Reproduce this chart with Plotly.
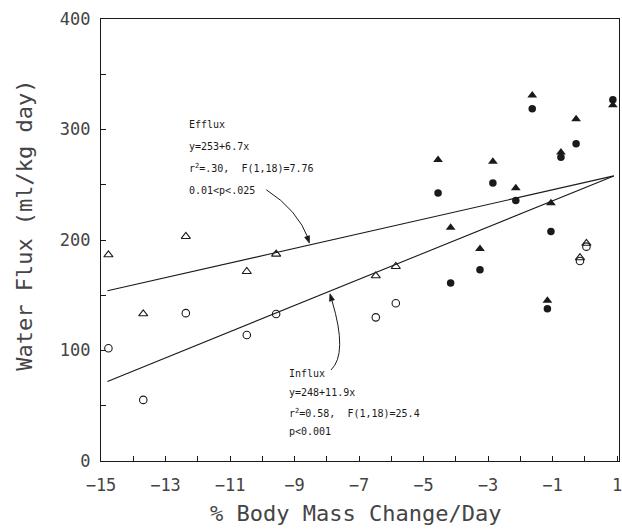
import plotly.graph_objects as go

# ---- data ----
open_x = [-14.77, -13.69, -12.37, -10.48, -9.57, -6.48, -5.86, -0.15, 0.05]
open_efflux = [186.6, 133.2, 203.2, 171.5, 187.2, 167.6, 176.0, 184.0, 197.0]
open_influx = [102.0, 55.3, 133.8, 114.0, 133.0, 130.0, 142.8, 181.0, 194.0]

filled_x = [-4.55, -4.16, -3.25, -2.85, -2.14, -1.63, -1.05, -1.16, -0.74, -0.27, 0.87]
filled_efflux = [272.6, 211.3, 192.0, 271.0, 247.0, 331.0, 233.4, 145.2, 279.3, 309.5, 322.0]
filled_influx = [242.5, 161.0, 173.0, 251.5, 235.8, 318.8, 207.7, 137.7, 275.0, 287.0, 327.0]

fit_x = [-14.8, 0.9]
efflux_fit = [154.0, 258.0]
influx_fit = [72.0, 258.0]

x_ticks = [-15, -13, -11, -9, -7, -5, -3, -1, 1]
y_ticks = [0, 100, 200, 300, 400]

efflux_text = ["Efflux", "y=253+6.7x", "r<sup>2</sup>=.30,  F(1,18)=7.76", "0.01<p<.025"]
influx_text = ["Influx", "y=248+11.9x", "r<sup>2</sup>=0.58,  F(1,18)=25.4", "p<0.001"]

MONO = "DejaVu Sans Mono"
INK = "#1a1a1a"
TXT = "#444444"

fig = go.Figure()

fig.add_trace(go.Scatter(x=fit_x, y=efflux_fit, mode="lines",
                         line=dict(color=INK, width=1.1), showlegend=False))
fig.add_trace(go.Scatter(x=fit_x, y=influx_fit, mode="lines",
                         line=dict(color=INK, width=1.1), showlegend=False))

fig.add_trace(go.Scatter(x=open_x, y=open_efflux, mode="markers",
                         marker=dict(symbol="triangle-up-open", size=8, color=INK,
                                     line=dict(width=1.1, color=INK)),
                         cliponaxis=False, showlegend=False))
fig.add_trace(go.Scatter(x=open_x, y=open_influx, mode="markers",
                         marker=dict(symbol="circle-open", size=7.5, color=INK,
                                     line=dict(width=1.1, color=INK)),
                         cliponaxis=False, showlegend=False))
fig.add_trace(go.Scatter(x=filled_x, y=filled_efflux, mode="markers",
                         marker=dict(symbol="triangle-up", size=8.5, color=INK),
                         cliponaxis=False, showlegend=False))
fig.add_trace(go.Scatter(x=filled_x, y=filled_influx, mode="markers",
                         marker=dict(symbol="circle", size=7.5, color=INK),
                         cliponaxis=False, showlegend=False))

# curved leader arrows (quadratic paths in data coordinates) with filled heads
fig.add_shape(type="path", xref="x", yref="y",
              path="M -9.877,245.5 Q -8.903,227.4 -8.560,200.5",
              line=dict(color=INK, width=1))
fig.add_shape(type="path", xref="x", yref="y",
              path="M -8.540,197.2 L -8.685,202.4 L -8.539,203.9 Z",
              line=dict(color=INK, width=0.8), fillcolor=INK)
fig.add_shape(type="path", xref="x", yref="y",
              path="M -7.870,82.4 Q -7.343,96.9 -7.840,145.2",
              line=dict(color=INK, width=1))
fig.add_shape(type="path", xref="x", yref="y",
              path="M -7.901,151.3 L -7.765,145.85 L -7.913,144.55 Z",
              line=dict(color=INK, width=0.8), fillcolor=INK)

# regression text blocks
for t, yy in zip(efflux_text, [304.3, 284.4, 265.4, 244.6]):
    fig.add_annotation(x=-12.34, y=yy, text=t, showarrow=False, xanchor="left",
                       yanchor="middle", font=dict(family=MONO, size=10, color=INK))
for t, yy in zip(influx_text, [78.8, 61.6, 43.5, 26.3]):
    fig.add_annotation(x=-9.22, y=yy, text=t, showarrow=False, xanchor="left",
                       yanchor="middle", font=dict(family=MONO, size=10, color=INK))

# axis titles
fig.add_annotation(xref="paper", yref="paper", x=-0.147, y=0.534, text="Water Flux (ml/kg day)",
                   textangle=-90, showarrow=False, xanchor="center", yanchor="middle",
                   font=dict(family=MONO, size=22, color=TXT))
fig.add_annotation(xref="paper", yref="paper", x=0.492, y=-0.118, text="% Body Mass Change/Day",
                   showarrow=False, xanchor="center", yanchor="middle",
                   font=dict(family=MONO, size=22, color=TXT))

fig.update_xaxes(range=[-15, 1.06], tickvals=x_ticks, ticks="inside", ticklen=5,
                 tickcolor=INK, showline=True, linecolor=INK, linewidth=1.2, mirror=True,
                 showgrid=False, zeroline=False, ticklabelstandoff=8, automargin=False,
                 ticklabeloverflow="allow",
                 minor=dict(dtick=1, tick0=-15, ticks="inside", ticklen=5, tickcolor=INK, showgrid=False),
                 tickfont=dict(family=MONO, size=17, color=TXT))
fig.update_yaxes(range=[0, 400], tickvals=y_ticks, ticks="inside", ticklen=5,
                 tickcolor=INK, showline=True, linecolor=INK, linewidth=1.2, mirror=True,
                 showgrid=False, zeroline=False, ticklabelstandoff=6, automargin=False,
                 ticklabeloverflow="allow",
                 minor=dict(dtick=50, tick0=0, ticks="inside", ticklen=5, tickcolor=INK, showgrid=False),
                 tickfont=dict(family=MONO, size=17, color=TXT))

fig.update_layout(width=622, height=532, margin=dict(l=101, r=3, t=19, b=71),
                  plot_bgcolor="white", paper_bgcolor="white")

# remove the browser's default page margin so the 622x532 figure fills the window
page_fix = ("document.body.style.margin='0';"
            "document.body.style.overflow='hidden';"
            "document.documentElement.style.overflow='hidden';")
fig.write_html("out.html", post_script=page_fix, config={"displayModeBar": False})
